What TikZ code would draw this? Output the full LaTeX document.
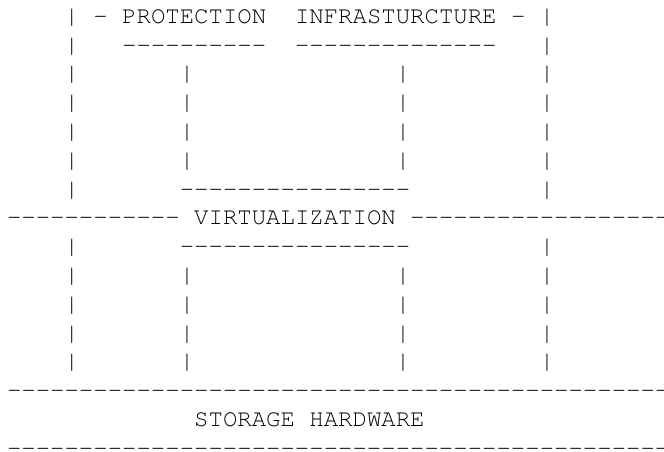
\documentclass[tikz,border=0pt]{standalone}
\usepackage[T1]{fontenc}
\usepackage{courier}
\tikzset{
  txt/.style={anchor=base west, inner sep=0pt, outer sep=0pt,
    font=\ttfamily\fontsize{24pt}{28.8pt}\selectfont, text=black},
}
\begin{document}
\begin{tikzpicture}
\useasboundingbox (0pt,-451pt) rectangle (664pt,0pt);
\clip (0pt,-451pt) rectangle (664pt,0pt);
\begin{scope}[shift={(7pt,-23.3pt)}, x=14.4pt, y=-28.8pt]
  % row 0
  \node[txt] (r0l) at (4,0) {|};
  \node[txt] (r0d1) at (6,0) {-};
  \node[txt] (prot) at (8,0) {PROTECTION};
  \node[txt] (infra) at (20,0) {INFRASTURCTURE};
  \node[txt] (r0d2) at (35,0) {-};
  \node[txt] (r0r) at (37,0) {|};
  % row 1
  \node[txt] (r1l) at (4,1) {|};
  \node[txt] (ulprot) at (8,1) {-{}-{}-{}-{}-{}-{}-{}-{}-{}-};
  \node[txt] (ulinfra) at (20,1) {-{}-{}-{}-{}-{}-{}-{}-{}-{}-{}-{}-{}-{}-};
  \node[txt] (r1r) at (37,1) {|};
  % rows 2-5
  \foreach \r in {2,...,5}{
    \foreach \c in {4,12,27,37}{
      \node[txt] (p\r-\c) at (\c,\r) {|};
    }
  }
  % row 6
  \node[txt] (r6l) at (4,6) {|};
  \node[txt] (boxtop) at (12,6) {-{}-{}-{}-{}-{}-{}-{}-{}-{}-{}-{}-{}-{}-{}-{}-};
  \node[txt] (r6r) at (37,6) {|};
  % row 7
  \node[txt] (vleft) at (0,7) {-{}-{}-{}-{}-{}-{}-{}-{}-{}-{}-{}-};
  \node[txt] (virt) at (13,7) {VIRTUALIZATION};
  \node[txt] (vright) at (28,7) {-{}-{}-{}-{}-{}-{}-{}-{}-{}-{}-{}-{}-{}-{}-{}-{}-{}-};
  % row 8
  \node[txt] (r8l) at (4,8) {|};
  \node[txt] (boxbot) at (12,8) {-{}-{}-{}-{}-{}-{}-{}-{}-{}-{}-{}-{}-{}-{}-{}-};
  \node[txt] (r8r) at (37,8) {|};
  % rows 9-12
  \foreach \r in {9,...,12}{
    \foreach \c in {4,12,27,37}{
      \node[txt] (p\r-\c) at (\c,\r) {|};
    }
  }
  % row 13
  \node[txt] (hwtop) at (0,13) {-{}-{}-{}-{}-{}-{}-{}-{}-{}-{}-{}-{}-{}-{}-{}-{}-{}-{}-{}-{}-{}-{}-{}-{}-{}-{}-{}-{}-{}-{}-{}-{}-{}-{}-{}-{}-{}-{}-{}-{}-{}-{}-{}-{}-{}-{}-};
  % row 14
  \node[txt] (storage) at (13,14) {STORAGE HARDWARE};
  % row 15
  \node[txt] (hwbot) at (0,15) {-{}-{}-{}-{}-{}-{}-{}-{}-{}-{}-{}-{}-{}-{}-{}-{}-{}-{}-{}-{}-{}-{}-{}-{}-{}-{}-{}-{}-{}-{}-{}-{}-{}-{}-{}-{}-{}-{}-{}-{}-{}-{}-{}-{}-{}-{}-};
\end{scope}
\end{tikzpicture}
\end{document}
